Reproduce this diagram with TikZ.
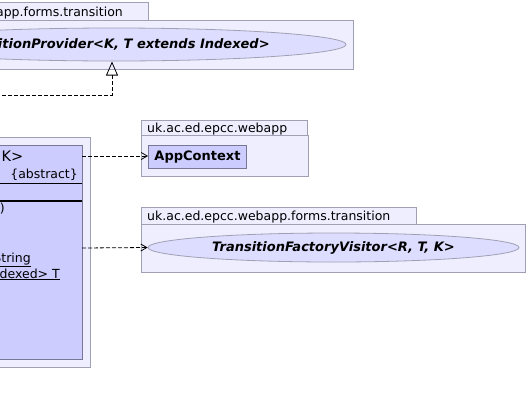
\documentclass[tikz,border=0pt]{standalone}
\usepackage{fontspec}
\setmainfont{DejaVu Sans}
\usetikzlibrary{shapes.geometric,arrows.meta}
\definecolor{pkgfill}{RGB}{238,238,255}
\definecolor{pkgdraw}{RGB}{160,160,180}
\definecolor{clsfill}{RGB}{204,204,255}
\definecolor{clsdraw}{RGB}{120,120,150}
\definecolor{ifcfill}{RGB}{221,221,255}
\tikzset{
  pkg/.style={draw=pkgdraw,fill=pkgfill,line width=0.9pt,inner sep=0pt},
  cls/.style={draw=clsdraw,fill=clsfill,line width=0.9pt},
  ifc/.style={ellipse,draw=pkgdraw,fill=ifcfill,line width=0.8pt,inner sep=0pt,
    font=\fontsize{13}{15}\selectfont\bfseries\itshape},
  dep/.style={dashed,dash pattern=on 4pt off 2pt,line width=0.8pt,-{Straight Barb[length=6pt,width=7pt]}},
  impl/.style={dashed,dash pattern=on 4pt off 2pt,line width=0.8pt,-{Triangle[open,length=14pt,width=12pt]}},
  lbl/.style={inner sep=0pt,font=\fontsize{12.5}{14}\selectfont},
}
\begin{document}
\begin{tikzpicture}[x=1pt,y=-1pt]
\useasboundingbox (0,0) rectangle (529,405);
\clip (0,0) rectangle (529,405);
\fill[white] (0,0) rectangle (529,405);
% top package
\draw[pkg] (-200,2) rectangle (148,20);
\node[lbl,anchor=base east] (toptab) at (123,16) {app.forms.transition};
\draw[pkg] (-200,20) rectangle (353,69);
\node[ifc,minimum width=464pt,minimum height=33pt] (prov) at (114,44.5) {TransitionProvider<K, T extends Indexed>};
% left package
\draw[pkg] (-200,137) rectangle (90,367);
\draw[cls] (-200,145) rectangle (82,359);
\coordinate (clsR1) at (82,156);
\coordinate (clsR2) at (82,248);
\node[inner sep=0pt,anchor=base east,font=\fontsize{14.5}{16}\selectfont] (kname) at (23.5,161) {K>};
\node[lbl,anchor=base east] (abs) at (78,178) {\{abstract\}};
\draw[black,line width=0.8pt] (-200,183) -- (82,183);
\draw[black,line width=2pt] (-200,200.5) -- (82,200.5);
\node[lbl,anchor=base east] (m1) at (5,212) {g)};
\node[lbl,anchor=base east] (m2) at (31,262) {\underline{String}};
\node[lbl,anchor=base east] (m3) at (60,278) {\underline{dexed> T}};
% inheritance from left class to provider
\coordinate (bend) at (112,95);
\coordinate (lft) at (-10,95);
\draw[impl] (lft) -- (bend) -- (112,61.5);
% AppContext package
\draw[pkg] (141,120) rectangle (307,135);
\node[lbl,anchor=base west] (t2) at (147,132) {uk.ac.ed.epcc.webapp};
\draw[pkg] (141,135) rectangle (308,176);
\node[cls,anchor=north west,minimum width=98pt,minimum height=23pt,inner sep=0pt,
  font=\fontsize{13}{15}\selectfont\bfseries] (app) at (148,145) {AppContext};
% Visitor package
\draw[pkg] (141,207) rectangle (416,224);
\node[lbl,anchor=base west] (t3) at (147,220) {uk.ac.ed.epcc.webapp.forms.transition};
\draw[pkg] (141,224) rectangle (525,272);
\node[ifc,minimum width=371pt,minimum height=29pt] (vis) at (333.5,247.5) {TransitionFactoryVisitor<R, T, K>};
% dependencies
\draw[dep] (clsR1) -- (app.west |- clsR1);
\draw[dep] (clsR2) -- (vis.west);
\end{tikzpicture}
\end{document}
